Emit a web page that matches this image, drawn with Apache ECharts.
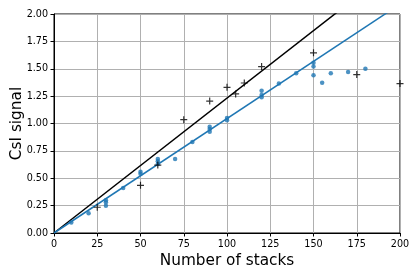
<!DOCTYPE html>
<html>
<head>
<meta charset="utf-8">
<script src="https://cdn.jsdelivr.net/npm/echarts@6/dist/echarts.min.js"></script>
<style>html,body{margin:0;padding:0;background:#fff}#c{width:415px;height:271px}</style>
</head>
<body>
<div id="c"></div>
<script>
const xTicks = [0, 25, 50, 75, 100, 125, 150, 175, 200];
const yTicks = [0, 0.25, 0.5, 0.75, 1.0, 1.25, 1.5, 1.75, 2.0];
const blueX = [10, 20, 30, 30, 30, 40, 50, 50, 60, 60, 60, 70, 80, 90, 90, 90, 100, 100, 120, 120, 120, 130, 140, 150, 150, 150, 155, 160, 170, 180];
const blueY = [0.095, 0.18, 0.25, 0.28, 0.30, 0.41, 0.54, 0.56, 0.63, 0.655, 0.675, 0.675, 0.83, 0.925, 0.95, 0.97, 1.03, 1.05, 1.24, 1.26, 1.30, 1.365, 1.46, 1.44, 1.52, 1.555, 1.373, 1.46, 1.47, 1.50];
const crossX = [25, 50, 60, 75, 90, 100, 105, 110, 120, 150, 175, 200];
const crossY = [0.235, 0.435, 0.62, 1.035, 1.205, 1.33, 1.27, 1.37, 1.52, 1.645, 1.447, 1.365];
const blackSlope = 0.01232;
const blueSlope = 0.01045;
const lineX = [0, 200];

const blueData = blueX.map((x, i) => [x, blueY[i]]);
const crossData = crossX.map((x, i) => [x, crossY[i]]);
const blackLine = lineX.map(x => [x, x * blackSlope]);
const blueLine = lineX.map(x => [x, x * blueSlope]);

const plus = 'path://M-0.17,-1L0.17,-1L0.17,-0.17L1,-0.17L1,0.17L0.17,0.17L0.17,1L-0.17,1L-0.17,0.17L-1,0.17L-1,-0.17L-0.17,-0.17Z';
const font = 'DejaVu Sans';

const chart = echarts.init(document.getElementById('c'), null, {renderer: 'canvas'});
chart.setOption({
  animation: false,
  backgroundColor: '#fff',
  textStyle: {fontFamily: font},
  grid: {left: 54, right: 15, top: 14, bottom: 38, containLabel: false, outerBoundsMode: 'none', show: true, borderColor: '#000', borderWidth: 1, backgroundColor: 'transparent'},
  xAxis: {
    type: 'value', min: xTicks[0], max: xTicks[xTicks.length - 1], interval: 25,
    name: 'Number of stacks', nameLocation: 'middle', nameGap: 20.5, nameMoveOverlap: false,
    nameTextStyle: {fontFamily: font, fontSize: 15.3, color: '#000'},
    axisLine: {show: true, onZero: false, lineStyle: {color: '#000', width: 1}},
    axisTick: {show: true, length: 3.5, lineStyle: {color: '#000'}},
    axisLabel: {fontFamily: font, fontSize: 9.6, color: '#000', margin: 6},
    splitLine: {show: true, lineStyle: {color: '#b0b0b0', width: 1}}
  },
  yAxis: {
    type: 'value', min: yTicks[0], max: yTicks[yTicks.length - 1], interval: 0.25,
    name: 'CsI signal', nameLocation: 'middle', nameGap: 29, nameMoveOverlap: false,
    nameTextStyle: {fontFamily: font, fontSize: 15.3, color: '#000'},
    axisLine: {show: true, onZero: false, lineStyle: {color: '#000', width: 1}},
    axisTick: {show: true, length: 3.5, lineStyle: {color: '#000'}},
    axisLabel: {fontFamily: font, fontSize: 9.6, color: '#000', margin: 6, formatter: v => v.toFixed(2)},
    splitLine: {show: true, lineStyle: {color: '#b0b0b0', width: 1}}
  },
  series: [
    {type: 'line', data: blackLine, showSymbol: false, clip: true, lineStyle: {color: '#000', width: 1.5}, z: 3},
    {type: 'line', data: blueLine, showSymbol: false, clip: true, lineStyle: {color: '#1f77b4', width: 1.5}, z: 3},
    {type: 'scatter', data: blueData, symbol: 'circle', symbolSize: 4.5, itemStyle: {color: '#1f77b4'}, z: 4},
    {type: 'scatter', data: crossData, symbol: plus, symbolSize: 7, clip: false, itemStyle: {color: '#000'}, z: 4}
  ]
});
</script>
</body>
</html>
